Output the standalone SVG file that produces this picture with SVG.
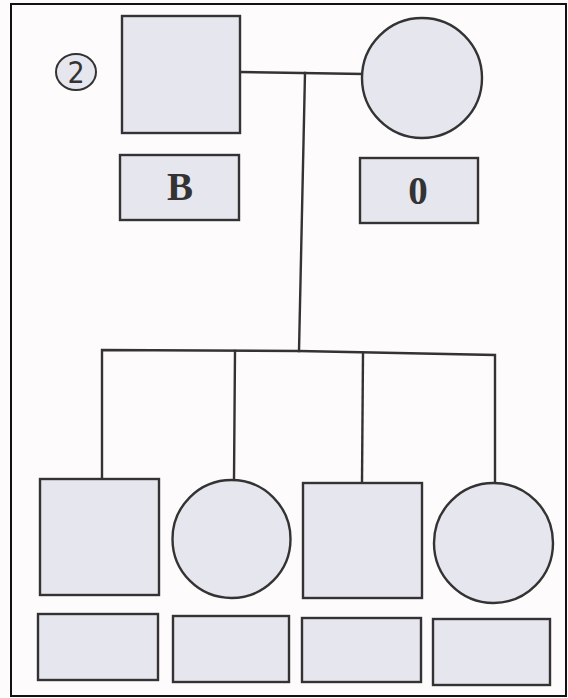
<svg xmlns="http://www.w3.org/2000/svg" width="568" height="698" viewBox="0 0 568 698">
  <style>
    .shape { fill: #e6e6ee; stroke: #333; stroke-width: 2.4; }
    .line { fill: none; stroke: #333; stroke-width: 2.4; stroke-linecap: square; }
    .lbl { font-family: "Liberation Serif", "Times New Roman", serif; font-weight: bold; font-size: 39px; fill: #333; text-anchor: middle; }
    .num { font-family: "DejaVu Sans Condensed", "Liberation Sans", sans-serif; font-stretch: condensed; font-size: 30px; fill: #333; text-anchor: middle; }
  </style>
  <rect x="0" y="0" width="568" height="698" fill="#fefbfd"/>
  <rect x="11" y="4" width="555" height="692" fill="none" stroke="#111" stroke-width="2"/>

  <g id="connectors">
    <line class="line" x1="240" y1="72" x2="363" y2="74"/>
    <line class="line" x1="305" y1="73" x2="299" y2="351"/>
    <polyline class="line" points="102,479 102,350 299,351 495,355 495,483"/>
    <line class="line" x1="235" y1="351" x2="234" y2="480"/>
    <line class="line" x1="363" y1="353" x2="362" y2="483"/>
  </g>

  <g id="pedigree-number">
    <ellipse cx="76" cy="72" rx="20" ry="18" fill="#e6e6ee" stroke="#333" stroke-width="2"/>
    <text class="num" x="76" y="83">2</text>
  </g>

  <g id="father">
    <rect class="shape" x="122" y="16" width="118" height="117"/>
  </g>
  <g id="mother">
    <ellipse class="shape" cx="422" cy="78" rx="60" ry="60"/>
  </g>
  <g id="father-label">
    <rect class="shape" x="120" y="155" width="119" height="65"/>
    <text class="lbl" x="180" y="200">B</text>
  </g>
  <g id="mother-label">
    <rect class="shape" x="360" y="158" width="118" height="65"/>
    <text class="lbl" x="418" y="204">0</text>
  </g>

  <g id="child1">
    <rect class="shape" x="40" y="479" width="119" height="116"/>
  </g>
  <g id="child2">
    <ellipse class="shape" cx="231.5" cy="539" rx="59" ry="59"/>
  </g>
  <g id="child3">
    <rect class="shape" x="303" y="483" width="119" height="115"/>
  </g>
  <g id="child4">
    <ellipse class="shape" cx="493.5" cy="543" rx="59.5" ry="60"/>
  </g>

  <g id="child1-label">
    <rect class="shape" x="38" y="614" width="120" height="66"/>
  </g>
  <g id="child2-label">
    <rect class="shape" x="173" y="616" width="116" height="66"/>
  </g>
  <g id="child3-label">
    <rect class="shape" x="302" y="618" width="119" height="64"/>
  </g>
  <g id="child4-label">
    <rect class="shape" x="433" y="619" width="117" height="66"/>
  </g>
</svg>
